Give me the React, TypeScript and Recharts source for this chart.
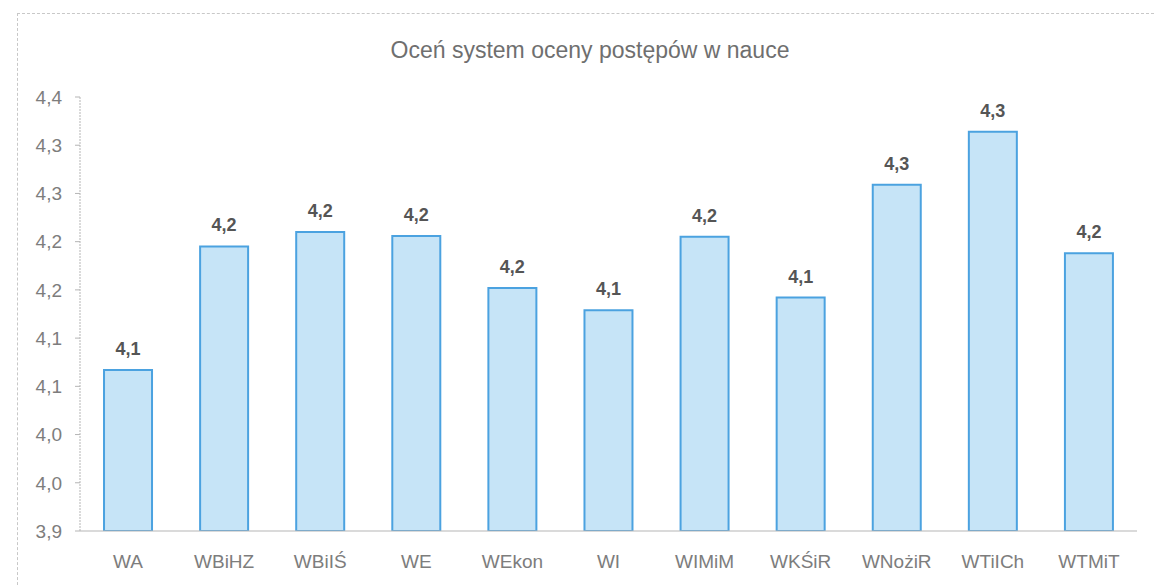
import { Bar, BarChart, LabelList, XAxis, YAxis } from "recharts"

const CATEGORIES = ["WA", "WBiHZ", "WBiIŚ", "WE", "WEkon", "WI", "WIMiM", "WKŚiR", "WNożiR", "WTiICh", "WTMiT"]
const SCORES = [4.067, 4.195, 4.21, 4.206, 4.152, 4.129, 4.205, 4.142, 4.259, 4.314, 4.188]
const Y_TICKS = [3.9, 3.95, 4.0, 4.05, 4.1, 4.15, 4.2, 4.25, 4.3, 4.35]
const Y_TICK_LABELS = ["3,9", "4,0", "4,0", "4,1", "4,1", "4,2", "4,2", "4,3", "4,3", "4,4"]
const TITLE = "Oceń system oceny postępów w nauce"

const rows = CATEGORIES.map((name, i) => ({ name, score: SCORES[i] }))

const FONT = "'Liberation Sans', Arial, sans-serif"
const TICK = { fill: "#7d7d7d", fontSize: 19, fontFamily: FONT }

function yLabel(v: number) {
  const i = Y_TICKS.findIndex((t) => Math.abs(t - v) < 1e-6)
  return i >= 0 ? Y_TICK_LABELS[i] : ""
}

function valueLabel(v: unknown) {
  return typeof v === "number" ? v.toFixed(1).replace(".", ",") : ""
}

export default function App() {
  return (
    <div
      style={{
        position: "absolute",
        left: 0,
        top: 0,
        width: 1154,
        height: 585,
        background: "#fff",
        overflow: "hidden",
      }}
    >
      {/* ramka wykresu ze skanu */}
      <div
        style={{
          position: "absolute",
          left: 17,
          top: 13,
          width: 1160,
          height: 600,
          border: "1px dashed #c8c8c8",
        }}
      />
      <div
        style={{
          position: "absolute",
          top: 37,
          left: 0,
          width: 1180,
          textAlign: "center",
          fontFamily: FONT,
          fontSize: 23,
          color: "#6f6f6f",
        }}
      >
        {TITLE}
      </div>
      <div style={{ position: "absolute", left: 0, top: 0 }}>
        <BarChart
          width={1154}
          height={585}
          data={rows}
          margin={{ top: 97, right: 17, bottom: 0, left: 0 }}
          barCategoryGap="25%"
        >
          <XAxis
            dataKey="name"
            height={54}
            tickLine={false}
            axisLine={{ stroke: "#b5b5b5" }}
            tick={TICK}
            tickMargin={18}
            interval={0}
          />
          <YAxis
            type="number"
            domain={[3.9, 4.35]}
            ticks={Y_TICKS}
            tickFormatter={yLabel}
            width={80}
            tickSize={5}
            tickMargin={13}
            axisLine={{ stroke: "#b5b5b5", strokeDasharray: "2 1" }}
            tickLine={{ stroke: "#b5b5b5" }}
            tick={TICK}
            allowDataOverflow
          />
          <Bar
            dataKey="score"
            fill="#c6e4f7"
            stroke="#4ba2e0"
            strokeWidth={2}
            isAnimationActive={false}
          >
            <LabelList
              dataKey="score"
              position="top"
              offset={15}
              formatter={valueLabel}
              fill="#555"
              fontSize={18}
              fontWeight="bold"
              fontFamily={FONT}
            />
          </Bar>
        </BarChart>
      </div>
    </div>
  )
}
